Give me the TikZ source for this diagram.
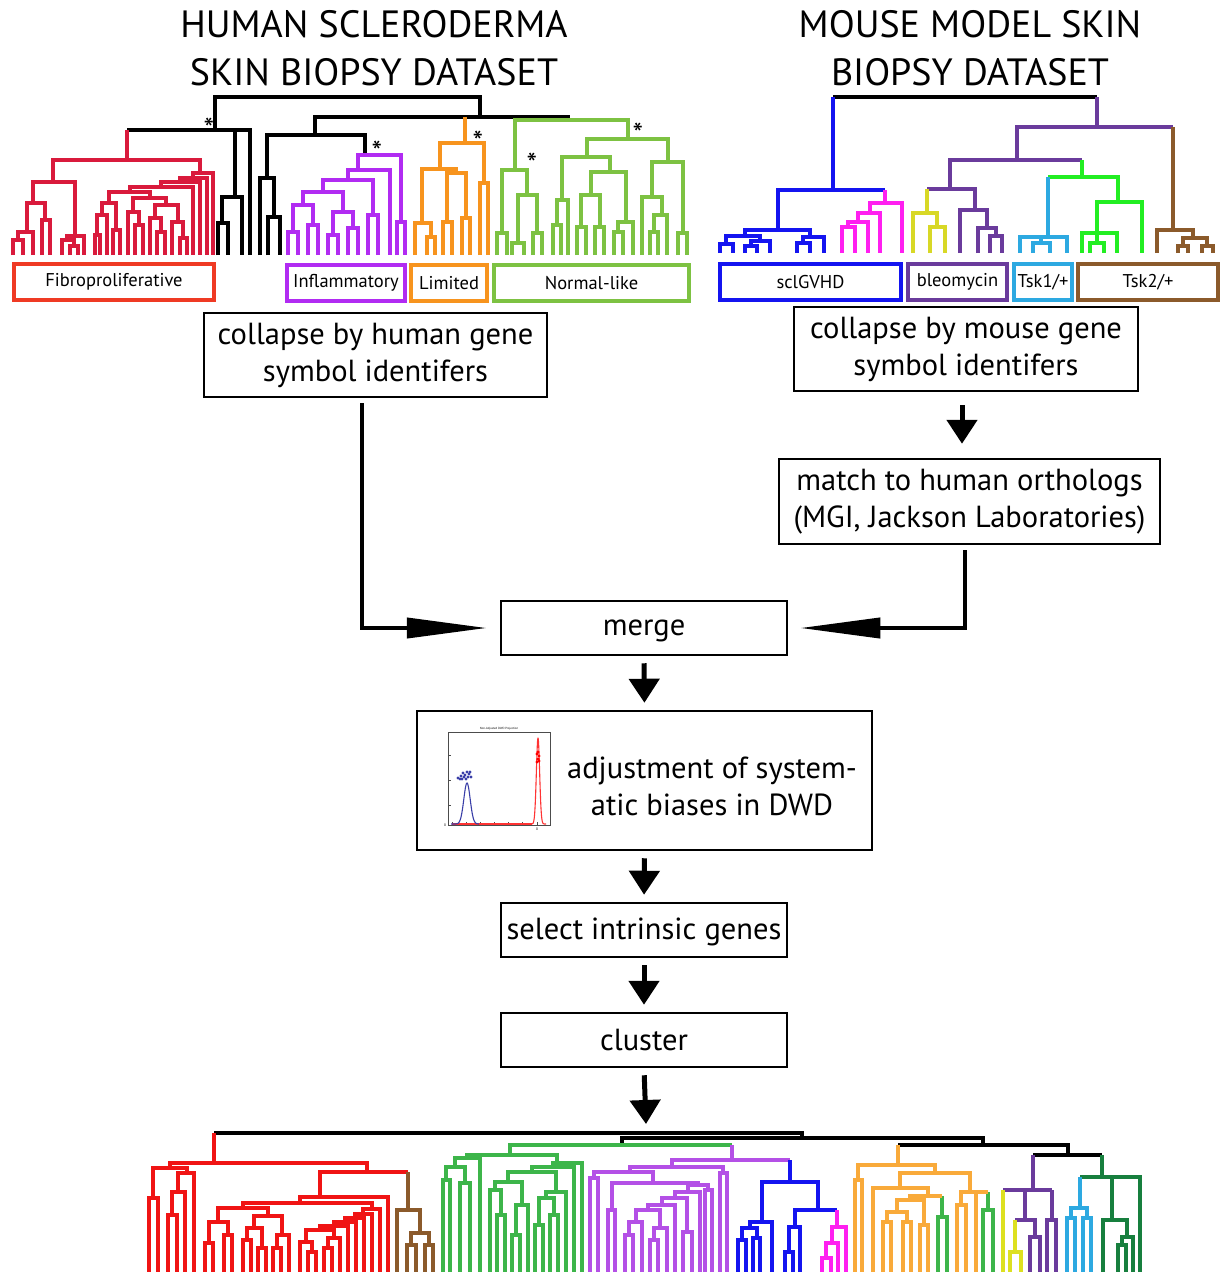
\documentclass[tikz,border=0pt]{standalone}
\usepackage{fontspec}
\setmainfont{PT Sans}
\usetikzlibrary{arrows.meta}

\definecolor{hred}{HTML}{D91A3C}
\definecolor{fibro}{HTML}{EF3A24}
\definecolor{hviolet}{HTML}{B12BF2}
\definecolor{horange}{HTML}{F7941E}
\definecolor{hgreen}{HTML}{7DC242}
\definecolor{mblue}{HTML}{1414F0}
\definecolor{mmag}{HTML}{FF1FF0}
\definecolor{myel}{HTML}{D8D826}
\definecolor{mpurp}{HTML}{6A3B9C}
\definecolor{mlblue}{HTML}{2DA9E1}
\definecolor{mgreen}{HTML}{22EE22}
\definecolor{mbrown}{HTML}{8B5A2B}
\definecolor{bred}{HTML}{F01414}
\definecolor{bgreen}{HTML}{3DB54A}
\definecolor{bviolet}{HTML}{B450E6}
\definecolor{borange}{HTML}{F9AA3A}
\definecolor{bdgreen}{HTML}{177F3E}
\definecolor{byel}{HTML}{DDE020}
\definecolor{dwdblue}{HTML}{3A3FA8}

\begin{document}
\begin{tikzpicture}[x=1pt, y=-1pt,
  tree/.style={line width=4pt},
  flowbox/.style={draw, line width=2.5pt, align=center, font=\fontsize{30.5}{37}\selectfont},
  tag/.style={draw, line width=4pt, minimum height=36pt, inner sep=0pt, font=\fontsize{18.5}{20}\selectfont},
  title/.style={align=center, font=\fontsize{38}{48}\selectfont},
  star/.style={inner sep=0pt, font=\fontsize{30}{30}\selectfont},
  sidearrow/.style={line width=4pt, -{Triangle[length=80pt,width=20pt]}},
  downarrow/.style={line width=5pt, -{Triangle[length=24pt,width=30pt]}, shorten <=7pt, shorten >=7pt}]
\useasboundingbox (0,0) rectangle (1224,1272);

% titles
\node[title] (htitle) at (374,48) {HUMAN SCLERODERMA\\SKIN BIOPSY DATASET};
\node[title] (mtitle) at (970,48) {MOUSE MODEL SKIN\\BIOPSY DATASET};

% human dendrogram
\draw[tree] (127,130) -| (250,255);
\draw[tree] (235,130) -- (235,197);
\draw[tree] (215,130) |- (480,97) -- (480,117);
\draw[tree] (315,135) |- (570,117);
\foreach \xa/\ya/\xb/\yb/\h in {218/255/228/255/223, 222/223/242/255/197,
  268/255/280/255/217, 260/255/274/217/178, 267/178/365/155/135}
  \draw[tree] (\xa,\ya) |- (\xb,\h) -- (\xb,\yb);
\draw[tree,hred] (127,160) -- (127,130);
\foreach \xa/\ya/\xb/\yb/\h in {13/255/23/255/240, 18/240/33/255/232, 42/255/50/255/220,
  27/232/45/220/203, 70/255/78/255/246, 62/255/74/246/240, 67/240/84/255/236,
  33/203/75/236/182, 95/255/100/255/235, 97/235/107/255/215, 113/255/120/255/230,
  102/215/116/230/203, 135/255/143/255/225, 128/255/139/225/212, 157/255/165/255/232,
  150/255/161/232/218, 180/255/187/255/238, 172/255/183/238/222, 155/218/178/222/205,
  133/212/166/205/198, 109/203/150/198/192, 130/192/193/255/187, 161/187/200/255/182,
  180/182/207/255/178, 193/178/213/255/173, 53/182/200/173/160}
  \draw[tree,hred] (\xa,\ya) |- (\xb,\h) -- (\xb,\yb);
\foreach \xa/\ya/\xb/\yb/\h in {288/255/298/255/232, 308/255/318/255/225, 293/232/313/225/205,
  328/255/338/255/235, 348/255/358/255/228, 333/235/353/228/212, 303/205/343/212/192,
  368/255/378/255/215, 323/192/373/215/180, 348/180/390/255/170, 397/255/405/255/222,
  358/170/401/222/155}
  \draw[tree,hviolet] (\xa,\ya) |- (\xb,\h) -- (\xb,\yb);
\draw[tree,horange] (465,143) -- (465,117);
\foreach \xa/\ya/\xb/\yb/\h in {427/255/435/255/237, 415/255/431/237/223, 443/255/452/255/222,
  462/255/470/255/218, 447/222/466/218/173, 422/223/456/173/169, 480/255/488/255/183,
  440/169/484/183/143}
  \draw[tree,horange] (\xa,\ya) |- (\xb,\h) -- (\xb,\yb);
\foreach \xa/\ya/\xb/\yb/\h in {497/255/507/255/233, 512/255/524/255/243, 533/255/542/255/233,
  518/243/537/233/195, 502/233/527/195/170, 553/255/561/255/225, 557/225/568/255/200,
  577/255/586/255/227, 595/255/604/255/227, 581/227/600/227/195, 614/255/623/255/232,
  618/232/633/255/222, 591/195/626/222/172, 562/200/610/172/157, 650/255/658/255/232,
  654/232/667/255/215, 642/255/662/215/197, 678/255/687/255/233, 652/197/683/233/162,
  587/157/668/162/139, 515/170/628/139/120}
  \draw[tree,hgreen] (\xa,\ya) |- (\xb,\h) -- (\xb,\yb);
\node[star] (s1) at (209,129) {*};
\node[star] (s2) at (377,152) {*};
\node[star] (s3) at (478,142) {*};
\node[star] (s4) at (638,134) {*};
\node[star] (s5) at (532,164) {*};

% mouse dendrogram
\draw[tree] (833,97) -- (1097,97);
\draw[tree,mblue] (833,97) -- (833,190);
\draw[tree,mpurp] (1097,97) -- (1097,127);
\foreach \xa/\ya/\xb/\yb/\h in {720/253/733/253/244, 745/253/757/253/246, 751/246/770/253/241,
  726/244/760/241/236, 797/253/810/253/243, 803/243/824/253/237, 745/236/810/237/230,
  778/230/885/190/190}
  \draw[tree,mblue] (\xa,\ya) |- (\xb,\h) -- (\xb,\yb);
\draw[tree,mmag] (885,190) -- (885,203);
\foreach \xa/\ya/\xb/\yb/\h in {842/253/855/253/227, 848/227/868/253/222, 858/222/880/253/213,
  870/213/902/253/203}
  \draw[tree,mmag] (\xa,\ya) |- (\xb,\h) -- (\xb,\yb);
\draw[tree,mpurp] (1017,160) |- (1173,127);
\draw[tree,mpurp] (950,189) |- (1082,160);
\draw[tree,mpurp] (927,189) -| (975,210);
\foreach \xa/\ya/\xb/\yb/\h in {990/253/1002/253/236, 978/253/996/236/228, 960/253/987/228/210}
  \draw[tree,mpurp] (\xa,\ya) |- (\xb,\h) -- (\xb,\yb);
\draw[tree,myel] (927,189) -- (927,213);
\foreach \xa/\ya/\xb/\yb/\h in {930/253/945/253/227, 913/253/937/227/213}
  \draw[tree,myel] (\xa,\ya) |- (\xb,\h) -- (\xb,\yb);
\draw[tree,mgreen] (1082,160) -- (1082,177);
\draw[tree,mgreen] (1048,177) -| (1118,202);
\foreach \xa/\ya/\xb/\yb/\h in {1090/253/1104/253/243, 1082/253/1117/253/233,
  1097/243/1097/243/233, 1097/233/1142/253/202}
  \draw[tree,mgreen] (\xa,\ya) |- (\xb,\h) -- (\xb,\yb);
\draw[tree,mlblue] (1048,177) -- (1048,237);
\foreach \xa/\ya/\xb/\yb/\h in {1033/253/1050/253/243, 1020/253/1067/253/237,
  1041/243/1041/243/237}
  \draw[tree,mlblue] (\xa,\ya) |- (\xb,\h) -- (\xb,\yb);
\draw[tree,mbrown] (1173,127) -- (1173,230);
\foreach \xa/\ya/\xb/\yb/\h in {1178/253/1188/253/246, 1202/253/1213/253/246,
  1183/246/1207/246/238, 1157/253/1193/238/230}
  \draw[tree,mbrown] (\xa,\ya) |- (\xb,\h) -- (\xb,\yb);

% subtype labels
\node[tag, draw=fibro, minimum width=200pt] (fib) at (114,282) {Fibroproliferative};
\node[tag, draw=hviolet, minimum width=118pt] (inf) at (346,283) {Inflammatory};
\node[tag, draw=horange, minimum width=76pt] (lim) at (449,283) {Limited};
\node[tag, draw=hgreen, minimum width=195pt] (nor) at (591.5,283) {Normal-like};
\node[tag, draw=mblue, minimum width=181pt] (gvhd) at (810.5,282) {sclGVHD};
\node[tag, draw=mpurp, minimum width=99pt] (bleo) at (957.5,282) {bleomycin};
\node[tag, draw=mlblue, minimum width=58pt] (tsk1) at (1043,282) {Tsk1/+};
\node[tag, draw=mbrown, minimum width=140pt] (tsk2) at (1148,282) {Tsk2/+};

% pipeline
\node[flowbox, minimum width=343pt, minimum height=84pt] (hcol) at (375.5,355) {collapse by human gene\\symbol identifers};
\node[flowbox, minimum width=344pt, minimum height=84pt] (mcol) at (966,349) {collapse by mouse gene\\symbol identifers};
\node[flowbox, minimum width=381pt, minimum height=85pt] (match) at (969.5,501.5) {match to human orthologs\\(MGI, Jackson Laboratories)};
\node[flowbox, minimum width=286pt, minimum height=54pt, text depth=0pt] (merge) at (644,628) {merge};
\node[flowbox, minimum width=455pt, minimum height=139pt] (adj) at (644.5,780.5) {};
\node[align=center, font=\fontsize{30.5}{37}\selectfont] (adjtxt) at (712,786) {adjustment of system-\\atic biases in DWD};
\node[flowbox, minimum width=286pt, minimum height=54pt, text depth=2pt] (sel) at (644,930) {select intrinsic genes};
\node[flowbox, minimum width=286pt, minimum height=54pt] (clu) at (644,1040) {cluster};
\coordinate (hx) at (362,0);
\coordinate (mx) at (965,0);
\coordinate (ax) at (962,0);
\coordinate (tree) at (646,1124);

\draw[sidearrow, shorten <=5pt, shorten >=13pt] (hcol.south -| hx) |- (merge.west);
\draw[sidearrow, shorten <=5pt, shorten >=12pt] (match.south -| mx) |- (merge.east);
\draw[downarrow, shorten <=13pt, shorten >=14pt] (mcol.south -| ax) -- (match.north -| ax);
\draw[downarrow] (merge.south) -- (adj.north);
\draw[downarrow] (adj.south) -- (sel.north);
\draw[downarrow] (sel.south) -- (clu.north);
\draw[downarrow, shorten >=0pt] (clu.south) -- (tree);

% DWD projection plot
\draw[black!70, line width=0.7pt] (448,732) rectangle (550,825);
\foreach \tx in {452,466,480,494,508,522,537}
  \draw[black!70, line width=0.5pt] (\tx,825) -- (\tx,822);
\foreach \ty in {755,780,805}
  \draw[black!70, line width=0.5pt] (448,\ty) -- (451,\ty);
\draw[red!80, line width=1.1pt] (452,824) -- (532,824);
\draw[dwdblue, line width=1.1pt] plot[domain=451:479, samples=60] (\x, {824-41*exp(-((\x-467)/4.5)^2)});
\draw[red!80, line width=1.1pt] plot[domain=530:546, samples=80] (\x, {824-86*exp(-((\x-538)/2.3)^2)});
\foreach \px/\py in {458/778, 461/776, 463/773, 465/775, 467/772, 469/774, 471/777, 466/779, 462/779, 468/777, 464/777, 460/779, 470/772}
  \fill[dwdblue] (\px,\py) circle (1.6pt);
\foreach \px/\py in {537/754, 539/756, 538/759, 539/761, 537/762, 538/752}
  \fill[red] (\px,\py) circle (1.6pt);
\node[font=\fontsize{3}{3}\selectfont, inner sep=0pt] (ptitle) at (499,729) {Non-Adjusted DWD Projection};
\node[font=\fontsize{3.5}{3.5}\selectfont, inner sep=0pt] (px0) at (537,829) {0};
\node[font=\fontsize{3.5}{3.5}\selectfont, inner sep=0pt] (py0) at (445,825) {0};

% combined dendrogram
\draw[tree] (214,1133) -- (802,1133) -- (802,1138);
\foreach \xa/\ya/\xb/\yb/\h in {622/1145/983/1145/1138, 898/1145/1068/1155/1145}
  \draw[tree] (\xa,\ya) |- (\xb,\h) -- (\xb,\yb);
\draw[tree] (1033,1155) -- (1102,1155);
\draw[tree,bred] (214,1133) -- (214,1163);
\foreach \xa/\ya/\xb/\yb/\h in {168/1272/177/1272/1215, 172/1215/185/1272/1192, 178/1192/194/1272/1173,
  149/1272/158/1272/1198, 153/1198/187/1173/1168, 205/1272/213/1272/1243, 224/1272/232/1272/1235,
  209/1243/228/1235/1222, 243/1272/251/1272/1240, 258/1272/266/1272/1248, 247/1240/262/1248/1228,
  273/1272/281/1272/1248, 277/1248/289/1272/1235, 254/1228/282/1235/1216, 218/1222/268/1216/1208,
  308/1272/316/1272/1252, 300/1272/312/1252/1242, 324/1272/332/1272/1248, 328/1248/340/1272/1238,
  306/1242/334/1238/1230, 320/1230/348/1272/1226, 334/1226/356/1272/1222, 345/1222/364/1272/1218,
  355/1218/372/1272/1214, 363/1214/380/1272/1209, 243/1208/372/1209/1203, 300/1203/388/1272/1197,
  320/1197/408/1172/1172, 170/1168/367/1172/1163}
  \draw[tree,bred] (\xa,\ya) |- (\xb,\h) -- (\xb,\yb);
\draw[tree,mbrown] (408,1172) -- (408,1210);
\foreach \xa/\ya/\xb/\yb/\h in {407/1272/416/1272/1245, 425/1272/433/1272/1245,
  411/1245/429/1245/1233, 397/1272/420/1233/1210}
  \draw[tree,mbrown] (\xa,\ya) |- (\xb,\h) -- (\xb,\yb);
\foreach \xa/\ya/\xb/\yb/\h in {443/1272/450/1272/1180, 460/1272/470/1272/1183, 446/1180/465/1183/1167,
  455/1167/480/1272/1158, 497/1272/505/1272/1215, 490/1272/501/1215/1190, 512/1272/520/1272/1235,
  516/1235/528/1272/1205, 495/1190/522/1205/1182, 535/1272/543/1272/1225, 550/1272/558/1272/1215,
  539/1225/554/1215/1198, 546/1198/566/1272/1192, 508/1182/556/1192/1172, 532/1172/574/1272/1167,
  553/1167/582/1272/1163, 467/1158/557/1163/1155, 510/1155/732/1145/1145,
  938/1272/947/1272/1217, 983/1272/993/1272/1210}
  \draw[tree,bgreen] (\xa,\ya) |- (\xb,\h) -- (\xb,\yb);
\draw[tree,bgreen] (942,1196) -- (942,1217);
\draw[tree,bgreen] (988,1192) -- (988,1210);
\draw[tree,bviolet] (732,1145) -- (732,1160);
\foreach \xa/\ya/\xb/\yb/\h in {590/1272/598/1272/1178, 608/1272/615/1272/1210, 625/1272/633/1272/1235,
  629/1235/642/1272/1222, 650/1272/658/1272/1240, 654/1240/667/1272/1228, 636/1222/660/1228/1210,
  648/1210/675/1272/1205, 683/1272/692/1272/1232, 662/1205/687/1232/1198, 675/1198/700/1272/1192,
  705/1272/712/1272/1190, 688/1192/708/1190/1185, 612/1210/698/1185/1183, 594/1178/653/1183/1172,
  720/1272/727/1272/1173, 630/1172/723/1173/1167, 672/1167/790/1160/1160}
  \draw[tree,bviolet] (\xa,\ya) |- (\xb,\h) -- (\xb,\yb);
\draw[tree,mblue] (790,1160) -- (790,1182);
\foreach \xa/\ya/\xb/\yb/\h in {738/1272/746/1272/1240, 753/1272/760/1272/1238, 742/1240/757/1238/1228,
  750/1228/772/1272/1222, 785/1272/793/1272/1252, 789/1252/800/1272/1227, 795/1227/837/1210/1210,
  762/1222/818/1210/1182}
  \draw[tree,mblue] (\xa,\ya) |- (\xb,\h) -- (\xb,\yb);
\draw[tree,mmag] (837,1210) -- (837,1227);
\foreach \xa/\ya/\xb/\yb/\h in {822/1272/831/1272/1258, 826/1258/838/1272/1243, 832/1243/846/1272/1227}
  \draw[tree,mmag] (\xa,\ya) |- (\xb,\h) -- (\xb,\yb);
\draw[tree,borange] (898,1145) -- (898,1165);
\foreach \xa/\ya/\xb/\yb/\h in {855/1272/862/1272/1180, 883/1272/891/1272/1222, 903/1272/911/1272/1222,
  887/1222/907/1222/1212, 920/1272/928/1272/1225, 897/1212/924/1225/1200, 910/1200/942/1196/1196,
  873/1272/928/1196/1188, 957/1272/966/1272/1205, 961/1205/988/1192/1192, 976/1272/976/1272/1192,
  900/1188/970/1192/1173, 858/1180/935/1173/1165}
  \draw[tree,borange] (\xa,\ya) |- (\xb,\h) -- (\xb,\yb);
\draw[tree,mpurp] (1033,1155) -- (1033,1190);
\draw[tree,mpurp] (1003,1190) -- (1052,1190);
\draw[tree,mpurp] (1025,1190) -- (1025,1220);
\draw[tree,mpurp] (1052,1190) -- (1052,1220);
\foreach \xa/\ya/\xb/\yb/\h in {1030/1272/1040/1272/1237, 1015/1220/1035/1237/1220, 1047/1272/1056/1272/1220}
  \draw[tree,mpurp] (\xa,\ya) |- (\xb,\h) -- (\xb,\yb);
\draw[tree,byel] (1003,1190) -- (1003,1272);
\draw[tree,byel] (1015,1220) -- (1015,1252);
\draw[tree,byel] (1010,1272) |- (1021,1252) -- (1021,1272);
\draw[tree,bdgreen] (1102,1155) -- (1102,1177);
\draw[tree,bdgreen] (1080,1177) -| (1140,1272);
\draw[tree,bdgreen] (1112,1177) -- (1112,1220);
\foreach \xa/\ya/\xb/\yb/\h in {1118/1272/1126/1272/1245, 1122/1245/1133/1272/1237, 1103/1272/1127/1237/1220}
  \draw[tree,bdgreen] (\xa,\ya) |- (\xb,\h) -- (\xb,\yb);
\draw[tree,mlblue] (1080,1177) -- (1080,1208);
\foreach \xa/\ya/\xb/\yb/\h in {1067/1272/1075/1272/1218, 1083/1272/1091/1272/1218, 1071/1218/1087/1218/1208}
  \draw[tree,mlblue] (\xa,\ya) |- (\xb,\h) -- (\xb,\yb);
\end{tikzpicture}
\end{document}
